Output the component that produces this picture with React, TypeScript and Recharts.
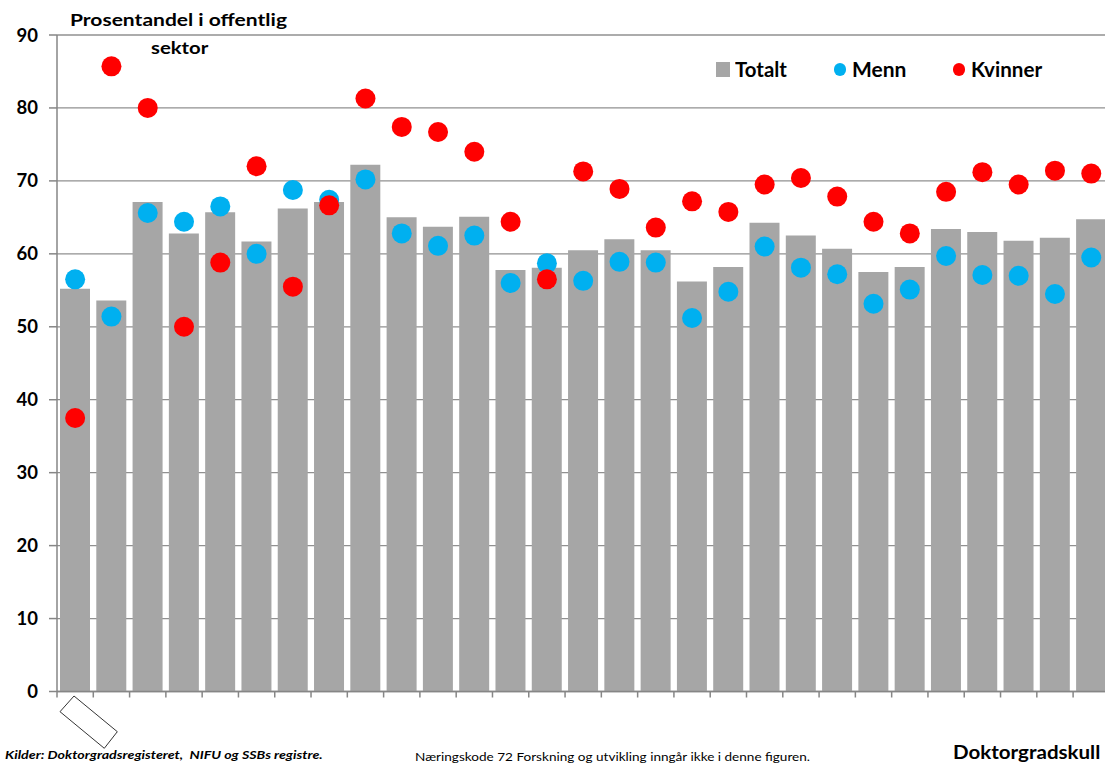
import React from 'react';
import { ComposedChart, Bar, Scatter, XAxis, YAxis, CartesianGrid } from 'recharts';

const categories = ['1990', '1991', '1992', '1993', '1994', '1995', '1996', '1997', '1998', '1999', '2000', '2001', '2002', '2003', '2004', '2005', '2006', '2007', '2008', '2009', '2010', '2011', '2012', '2013', '2014', '2015', '2016', '2017', '2018'];
const totalt = [55.2, 53.6, 67.1, 62.8, 65.7, 61.7, 66.2, 67.1, 72.2, 65.0, 63.7, 65.1, 57.8, 58.1, 60.5, 62.0, 60.5, 56.2, 58.2, 64.25, 62.5, 60.7, 57.5, 58.2, 63.4, 63.0, 61.8, 62.2, 64.75];
const menn = [56.5, 51.4, 65.6, 64.4, 66.5, 60.0, 68.75, 67.4, 70.2, 62.8, 61.1, 62.5, 56.0, 58.7, 56.3, 58.9, 58.8, 51.2, 54.8, 61.0, 58.1, 57.2, 53.15, 55.1, 59.7, 57.1, 57.0, 54.5, 59.5];
const kvinner = [37.5, 85.7, 80.0, 50.0, 58.8, 72.0, 55.5, 66.65, 81.3, 77.4, 76.7, 74.0, 64.4, 56.5, 71.3, 68.9, 63.6, 67.2, 65.75, 69.5, 70.4, 67.85, 64.4, 62.8, 68.5, 71.2, 69.5, 71.4, 71.0];
const yTicks = [0, 10, 20, 30, 40, 50, 60, 70, 80, 90];

const data = categories.map((c, i) => ({ name: c, totalt: totalt[i], menn: menn[i], kvinner: kvinner[i] }));

const FONT = 'Lato, "DejaVu Sans", sans-serif';
const CHART_W = 1110;
const CHART_H = 765;
const Y_W = 57;
const MARGIN = { top: 35, right: 0.6, left: 0, bottom: 43.5 };
const PLOT_W = CHART_W - Y_W - MARGIN.left - MARGIN.right;
const BAND = PLOT_W / categories.length;

const GRAY = '#A6A6A6';
const BLUE = '#00B0F0';
const RED = '#FF0000';
const AXIS = '#868686';

const XTick = (props: any) => {
  const { x, y, index } = props;
  const left = x - BAND / 2;
  return (
    <g>
      <line x1={left} y1={y} x2={left} y2={y + 6} stroke={AXIS} strokeWidth={1.5} />
      {index === 0 && (
        <polygon
          points={`${left + 3},${y + 20.2} ${left + 17},${y + 4.5} ${left + 60.3},${y + 40.2} ${left + 47.3},${y + 56.8}`}
          fill="none"
          stroke="#000"
          strokeWidth={0.8}
        />
      )}
    </g>
  );
};

const YTick = (props: any) => {
  const { x, y, payload } = props;
  return (
    <text x={x} y={y} dy={6.5} textAnchor="end" fontFamily={FONT} fontWeight={700} fontSize={18.5} fill="#000">
      {payload.value}
    </text>
  );
};

const dot = (color: string) => (props: any) => (
  <circle cx={props.cx} cy={props.cy} r={10} fill={color} />
);

const abs = (style: React.CSSProperties, sx = 1): React.CSSProperties => ({
  position: 'absolute',
  whiteSpace: 'nowrap',
  lineHeight: 1,
  fontFamily: FONT,
  color: '#000',
  transform: `scaleX(${sx})`,
  transformOrigin: 'left top',
  ...style,
});

export default function App() {
  return (
    <div style={{ position: 'absolute', left: 0, top: 0, width: 1105, height: 765, overflow: 'hidden', background: '#fff' }}>
      <ComposedChart width={CHART_W} height={CHART_H} data={data} margin={MARGIN}>
        <CartesianGrid vertical={false} stroke="#909090" strokeWidth={1.3} />
        <XAxis
          dataKey="name"
          height={30}
          tickSize={0}
          tickMargin={0}
          tickLine={false}
          axisLine={{ stroke: AXIS, strokeWidth: 1.5 }}
          interval={0}
          tick={<XTick />}
        />
        <YAxis
          width={Y_W}
          domain={[0, 90]}
          ticks={yTicks}
          interval={0}
          tickSize={8}
          tickMargin={11}
          axisLine={{ stroke: AXIS, strokeWidth: 1.5 }}
          tickLine={{ stroke: AXIS, strokeWidth: 1.5 }}
          tick={<YTick />}
        />
        <Bar dataKey="totalt" fill={GRAY} barSize={30} isAnimationActive={false} />
        <Scatter dataKey="menn" fill={BLUE} shape={dot(BLUE)} isAnimationActive={false} />
        <Scatter dataKey="kvinner" fill={RED} shape={dot(RED)} isAnimationActive={false} />
      </ComposedChart>

      <div style={abs({ left: 70, top: 11, fontSize: 17.5, fontWeight: 700 }, 1.2)}>Prosentandel i offentlig</div>
      <div style={abs({ left: 151, top: 39, fontSize: 17.5, fontWeight: 700 }, 1.16)}>sektor</div>

      <div style={abs({ left: 716, top: 62, width: 14, height: 15, background: GRAY })} />
      <div style={abs({ left: 735, top: 58.5, fontSize: 20, fontWeight: 700 }, 1.02)}>Totalt</div>
      <div style={abs({ left: 833.5, top: 63, width: 12.6, height: 12.6, borderRadius: '50%', background: BLUE })} />
      <div style={abs({ left: 852, top: 58.5, fontSize: 20, fontWeight: 700 }, 1.05)}>Menn</div>
      <div style={abs({ left: 952.5, top: 63, width: 12.6, height: 12.6, borderRadius: '50%', background: RED })} />
      <div style={abs({ left: 971, top: 58.5, fontSize: 20, fontWeight: 700 }, 1.03)}>Kvinner</div>

      <div style={abs({ left: 5, top: 749, fontSize: 11.5, fontWeight: 700, fontStyle: 'italic' }, 1.24)}>
        Kilder: Doktorgradsregisteret,&nbsp; NIFU og SSBs registre.
      </div>
      <div style={abs({ left: 415, top: 750.5, fontSize: 11.5 }, 1.18)}>
        Næringskode 72 Forskning og utvikling inngår ikke i denne figuren.
      </div>
      <div style={abs({ left: 953, top: 742, fontSize: 19, fontWeight: 700 }, 1.08)}>Doktorgradskull</div>
    </div>
  );
}
